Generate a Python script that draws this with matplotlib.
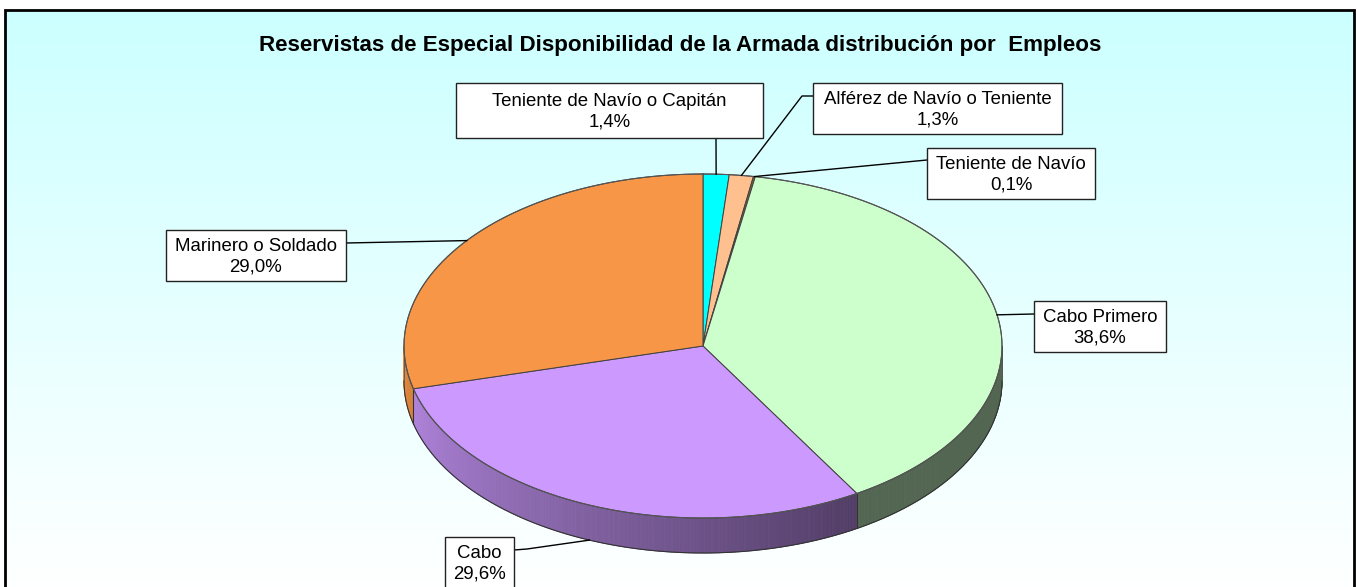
import numpy as np
import matplotlib
matplotlib.use("Agg")
import matplotlib.pyplot as plt
from matplotlib.patches import Polygon, Rectangle
from matplotlib.collections import PolyCollection
from matplotlib.colors import to_rgb

plt.rcParams['font.family'] = ['Liberation Sans', 'DejaVu Sans']

# ---------------- data ----------------
title = "Reservistas de Especial Disponibilidad de la Armada distribución por  Empleos"
labels = ["Teniente de Navío o Capitán", "Alférez de Navío o Teniente", "Teniente de Navío",
          "Cabo Primero", "Cabo", "Marinero o Soldado"]
values = [1.4, 1.3, 0.1, 38.6, 29.6, 29.0]
colors = ["#00ffff", "#ffc090", "#8a6a2a", "#ccffcc", "#cc99ff", "#f79646"]

# ---------------- layout (pixels) ----------------
W, H = 1357, 587
cx, cy, rx, ry, depth = 703, 346, 299, 172, 35
# label boxes: (left, top, width, height)
boxes = [(456, 83, 307, 55), (813, 83, 249, 51), (927, 148, 168, 51),
         (1034, 301, 132, 51), (445, 537, 69, 51), (166, 230, 180, 51)]
# leader path points from the box side toward the slice (excluding anchor)
leader_pts = [[(716, 138)], [(813, 96), (802, 96)], [(927, 160)],
              [(1034, 314)], [(514, 550), (527, 549)], [(346, 243)]]

fig = plt.figure(figsize=(W / 100, H / 100), dpi=100)
ax = fig.add_axes([0, 0, 1, 1])
ax.set_xlim(0, W)
ax.set_ylim(H, 0)
ax.axis('off')

# background gradient
grad = np.linspace(0, 1, 300)[:, None]
top_c = np.array(to_rgb("#ccffff"))
img = top_c[None, None, :] * (1 - grad[:, :, None]) + np.ones(3)[None, None, :] * grad[:, :, None]
img = np.repeat(img, 2, axis=1)
ax.imshow(img, extent=[5, 1354, H + 5, 10], aspect='auto', zorder=0, interpolation='bilinear')
ax.plot([5, 5, 1354, 1354], [H + 10, 10, 10, H + 10], color='black', lw=2, zorder=1,
        solid_joinstyle='miter')


def pt(theta_deg, dy=0.0):
    t = np.radians(theta_deg)
    return cx + rx * np.sin(t), cy - ry * np.cos(t) + dy


total = sum(values)
bounds = np.concatenate([[0], np.cumsum(values) / total * 360])

# side faces (visible front part: 90..270 deg)
strips, scol = [], []
for i, v in enumerate(values):
    a0, a1 = max(bounds[i], 90), min(bounds[i + 1], 270)
    if a1 <= a0:
        continue
    n = max(2, int((a1 - a0) * 3))
    ang = np.linspace(a0, a1, n + 1)
    base = np.array(to_rgb(colors[i]))
    for k in range(n):
        p0, p1 = pt(ang[k]), pt(ang[k + 1])
        strips.append([p0, p1, (p1[0], p1[1] + depth), (p0[0], p0[1] + depth)])
        am = 0.5 * (ang[k] + ang[k + 1])
        f = 0.4 + 0.52 * np.clip((am - 150) / 120, 0, 1)
        scol.append(np.clip(base * f, 0, 1))
pc = PolyCollection(strips, facecolors=scol, edgecolors=scol, linewidths=0.6, zorder=2)
ax.add_collection(pc)
# side outlines
ang = np.linspace(90, 270, 400)
xs, ys = pt(ang, depth)
ax.plot(xs, ys, color='#333333', lw=0.8, zorder=3)
for a in bounds:
    if 90 < a < 270:
        x0, y0 = pt(a)
        ax.plot([x0, x0], [y0, y0 + depth], color='#333333', lw=0.8, zorder=3)
for a in (90, 270):
    x0, y0 = pt(a)
    ax.plot([x0, x0], [y0, y0 + depth], color='#555555', lw=0.6, zorder=3)

# top faces
for i, v in enumerate(values):
    n = max(3, int((bounds[i + 1] - bounds[i]) * 3))
    ang = np.linspace(bounds[i], bounds[i + 1], n)
    xs, ys = pt(ang)
    verts = [(cx, cy)] + list(zip(xs, ys))
    ax.add_patch(Polygon(verts, closed=True, facecolor=colors[i], edgecolor='#404040',
                         lw=0.7, zorder=4, joinstyle='round'))
ang = np.linspace(0, 360, 600)
xs, ys = pt(ang)
ax.plot(xs, ys, color='#555555', lw=0.8, zorder=5)

# title
ax.text(680, 46, title, ha='center', va='center', fontsize=16.1, fontweight='bold',
        color='black', zorder=10)

# labels
for i, v in enumerate(values):
    l, t, w, h = boxes[i]
    ax.add_patch(Rectangle((l, t), w, h, facecolor='white', edgecolor='#222222',
                           lw=1.0, zorder=8))
    pct = f"{v:.1f}".replace('.', ',') + '%'
    ax.text(l + w / 2, t + h / 2 + 1, labels[i] + "\n" + pct, ha='center', va='center',
            fontsize=13.4, linespacing=1.3, color='black', zorder=9)
    mid = 0.5 * (bounds[i] + bounds[i + 1])
    dy = depth if 180 < mid < 250 else 0
    ax_, ay_ = pt(mid, dy)
    path = leader_pts[i] + [(ax_, ay_)]
    ax.plot([p[0] for p in path], [p[1] for p in path], color='black', lw=1.0, zorder=7)

fig.savefig("out.png", dpi=100)
